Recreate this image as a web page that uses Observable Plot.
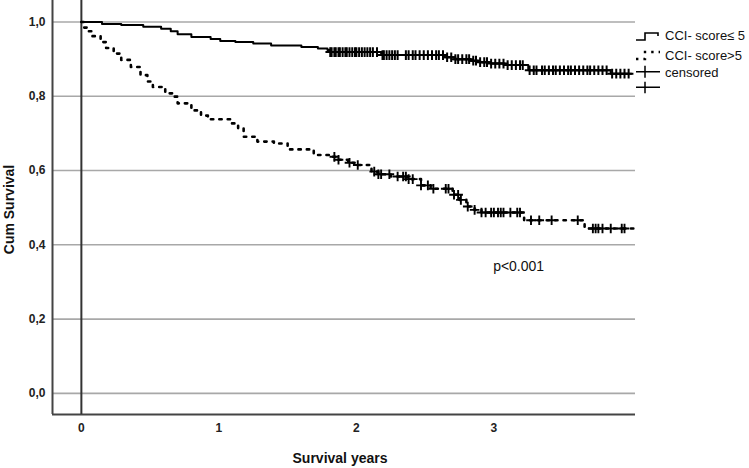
<!DOCTYPE html>
<html>
<head>
<meta charset="utf-8">
<script src="https://cdn.jsdelivr.net/npm/d3@7"></script>
<script src="https://cdn.jsdelivr.net/npm/@observablehq/plot@0.6"></script>
<style>
  html, body { margin: 0; padding: 0; background: #fff; }
  #wrap { position: relative; width: 749px; height: 468px; }
  #legend { position: absolute; left: 630px; top: 25px; }
</style>
</head>
<body>
<div id="wrap"></div>
<script>
// ---- data ----
const xDomain = [-0.21, 4.03];
const yDomain = [-0.057, 1.058];
const xTicks = [0, 1, 2, 3];
const yTicks = [0, 0.2, 0.4, 0.6, 0.8, 1.0];

// CCI score <= 5 (solid)
const times1 = [0, 0.15, 0.29, 0.45, 0.58, 0.65, 0.70, 0.80, 0.94, 1.01, 1.12, 1.25, 1.38, 1.60, 1.72, 1.79, 1.81, 2.18, 2.64, 2.72, 2.83, 2.90, 2.98, 3.08, 3.25, 3.85, 4.00];
const surv1  = [1.0, 0.995, 0.992, 0.987, 0.982, 0.975, 0.967, 0.960, 0.954, 0.949, 0.946, 0.942, 0.937, 0.933, 0.929, 0.925, 0.919, 0.911, 0.905, 0.900, 0.896, 0.892, 0.888, 0.884, 0.870, 0.861, 0.861];
const censor1 = [1.81, 1.82, 1.84, 1.85, 1.87, 1.88, 1.90, 1.92, 1.93, 1.95, 1.97, 1.99, 2.00, 2.02, 2.04, 2.06, 2.08, 2.10, 2.12, 2.15,
  2.19, 2.20, 2.22, 2.24, 2.26, 2.28, 2.30, 2.36, 2.38, 2.41, 2.43, 2.46, 2.49, 2.52, 2.55, 2.58, 2.60,
  2.63, 2.66, 2.69, 2.72, 2.74, 2.77, 2.80, 2.82, 2.85, 2.87, 2.90, 2.93, 2.95, 2.98, 3.01, 3.04, 3.07, 3.10, 3.13, 3.16, 3.19, 3.21,
  3.26, 3.29, 3.31, 3.35, 3.37, 3.40, 3.43, 3.45, 3.48, 3.51, 3.54, 3.56, 3.59, 3.62, 3.65, 3.68, 3.70, 3.73, 3.76, 3.79, 3.82,
  3.86, 3.89, 3.92, 3.95, 3.98];

// CCI score > 5 (dotted)
const times2 = [0, 0.02, 0.04, 0.08, 0.14, 0.18, 0.235, 0.29, 0.36, 0.43, 0.48, 0.52, 0.61, 0.67, 0.70, 0.80, 0.87, 0.92, 1.09, 1.14, 1.18, 1.28, 1.40, 1.50, 1.69, 1.81, 1.86, 1.94, 2.01, 2.11, 2.16, 2.25, 2.37, 2.47, 2.54, 2.70, 2.75, 2.80, 2.86, 2.91, 3.22, 3.66, 4.03];
const surv2  = [1.0, 0.985, 0.975, 0.962, 0.946, 0.930, 0.915, 0.898, 0.879, 0.857, 0.840, 0.825, 0.808, 0.799, 0.781, 0.762, 0.748, 0.738, 0.727, 0.714, 0.691, 0.678, 0.673, 0.657, 0.642, 0.637, 0.629, 0.621, 0.615, 0.597, 0.590, 0.584, 0.577, 0.560, 0.551, 0.535, 0.521, 0.503, 0.494, 0.487, 0.466, 0.444, 0.444];
const censor2 = [1.84, 1.87, 1.95, 2.01, 2.13, 2.16, 2.18, 2.24, 2.30, 2.34, 2.36, 2.38, 2.41, 2.47, 2.52, 2.56, 2.65, 2.67, 2.71, 2.74, 2.76, 2.81, 2.86, 2.91, 2.94, 2.98, 3.00, 3.03, 3.05, 3.07, 3.12, 3.17, 3.19, 3.27, 3.33, 3.42, 3.61, 3.72, 3.74, 3.76, 3.79, 3.85, 3.93, 3.95];

const seriesLabels = ["CCI- score\u2264 5", "CCI- score>5", "censored"];
const xLabel = "Survival years";
const yLabel = "Cum Survival";
const annotation = [{t: 3.18, s: 0.341, text: "p<0.001"}];

// ---- build tables ----
const steps1 = times1.map((t, i) => ({t, s: surv1[i]}));
const steps2 = times2.map((t, i) => ({t, s: surv2[i]}));
function survAt(times, surv, t) {
  let k = 0;
  for (let i = 0; i < times.length; i++) if (times[i] <= t) k = i;
  return surv[k];
}
const cens1 = censor1.map(t => ({t, s: survAt(times1, surv1, t)}));
const cens2 = censor2.map(t => ({t, s: survAt(times2, surv2, t)}));

const chart = Plot.plot({
  width: 749,
  height: 468,
  marginLeft: 52,
  marginRight: 114,
  marginTop: 0,
  marginBottom: 54,
  style: {fontFamily: "'Liberation Sans', Arial, sans-serif", fontSize: "12px", fontWeight: "bold", color: "#222", background: "#fff"},
  x: {domain: xDomain, ticks: xTicks, tickSize: 0, tickPadding: 9, label: null, tickFormat: d => String(d)},
  y: {domain: yDomain, ticks: yTicks, tickSize: 0, tickPadding: 7, label: null, tickFormat: d => d.toFixed(1).replace(".", ",")},
  marks: [
    Plot.ruleY(yTicks, {stroke: "#a8a8a8", strokeWidth: 1.6}),
    Plot.ruleX([xDomain[0]], {stroke: "#444", strokeWidth: 2}),
    Plot.ruleY([yDomain[0]], {stroke: "#444", strokeWidth: 2}),
    Plot.ruleX([0], {stroke: "#333", strokeWidth: 2}),
    Plot.line(steps1, {x: "t", y: "s", curve: "step-after", stroke: "#000", strokeWidth: 2}),
    Plot.line(steps2, {x: "t", y: "s", curve: "step-after", stroke: "#000", strokeWidth: 2.6, strokeDasharray: "2.4,6"}),
    Plot.dot(cens1, {x: "t", y: "s", symbol: "plus", r: 3.2, stroke: "#000", strokeWidth: 2}),
    Plot.dot(cens2, {x: "t", y: "s", symbol: "plus", r: 3.2, stroke: "#000", strokeWidth: 1.9}),
    Plot.text(annotation, {x: "t", y: "s", text: "text", fontSize: 14, fontWeight: "normal", fill: "#111"}),
    Plot.text([xLabel], {frameAnchor: "bottom", textAnchor: "middle", lineAnchor: "middle", dx: -4, dy: 44, fontSize: 14, fontWeight: "bold", fill: "#111"}),
    Plot.text([yLabel], {frameAnchor: "left", textAnchor: "middle", lineAnchor: "middle", rotate: -90, dx: -43, dy: 2, fontSize: 14, fontWeight: "bold", fill: "#111"})
  ]
});
const wrap = document.getElementById("wrap");
wrap.appendChild(chart);

// legend
const ns = "http://www.w3.org/2000/svg";
const lg = document.createElementNS(ns, "svg");
lg.setAttribute("id", "legend");
lg.setAttribute("width", 119);
lg.setAttribute("height", 75);
lg.innerHTML = `
  <g fill="none" stroke="#000">
    <path d="M6,15 H15 V8 H28 V11" stroke-width="1.6"/>
    <path d="M6,34 H15 V27 H30" stroke-width="2.4" stroke-dasharray="2.4,5"/>
    <path d="M6,46.7 H30 M15,40.7 V52.7" stroke-width="1.5"/>
    <path d="M6,62.3 H30 M15,56.7 V68.3" stroke-width="1.5"/>
  </g>
  <g font-family="'Liberation Sans', Arial, sans-serif" font-size="13" fill="#111">
    <text x="35" y="14.5">${seriesLabels[0]}</text>
    <text x="35" y="34.5">${seriesLabels[1]}</text>
    <text x="35" y="51.5">${seriesLabels[2]}</text>
  </g>`;
wrap.appendChild(lg);
</script>
</body>
</html>
